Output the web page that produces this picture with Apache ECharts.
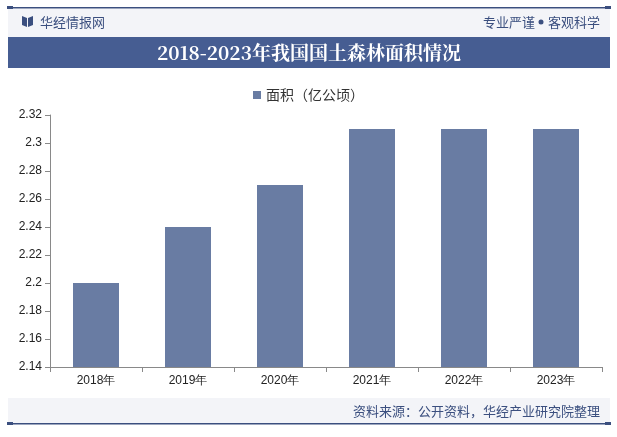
<!DOCTYPE html>
<html><head><meta charset="utf-8">
<script src="https://cdn.jsdelivr.net/npm/echarts@6/dist/echarts.min.js"></script>
<style>html,body{margin:0;padding:0;background:#fff}#c{width:617px;height:437px}</style>
</head><body><div id="c"></div>
<script>
var categories = ['2018年','2019年','2020年','2021年','2022年','2023年'];
var areaValues = [2.2, 2.24, 2.27, 2.31, 2.31, 2.31];
var seriesName = '面积（亿公顷）';
var titleText = '2018-2023年我国国土森林面积情况';
var sourceText = '资料来源：公开资料，华经产业研究院整理';

var chart = echarts.init(document.getElementById('c'), null, {renderer:'canvas'});
var navy = '#3b4f7f';
chart.setOption({
  backgroundColor:'#fff',
  animation:false,
  graphic:[
    {type:'rect', shape:{x:8,y:9,width:602,height:28}, style:{fill:'#f3f4f8'}},
    {type:'rect', shape:{x:8,y:7,width:602,height:1.5}, style:{fill:navy}},
    {type:'rect', shape:{x:7,y:6,width:6,height:3}, style:{fill:navy}},
    {type:'rect', shape:{x:605,y:6,width:6,height:3}, style:{fill:navy}},
    {type:'rect', shape:{x:8,y:37,width:602,height:31}, style:{fill:'#465d92'}},
    {type:'text', x:309, y:53, style:{text:titleText, fill:'#fff', font:'bold 19px "Noto Serif CJK SC","Noto Sans CJK SC",serif', align:'center', verticalAlign:'middle'}},
    {type:'polygon', shape:{points:[[22,16],[27,18],[27,27],[22,25]]}, style:{fill:'#3b4f7f'}},
    {type:'polygon', shape:{points:[[28,18],[33,16],[33,25],[28,27]]}, style:{fill:'#3b4f7f'}},
    {type:'text', x:40, y:22, style:{text:'华经情报网', fill:'#3b4f7f', font:'13px "Noto Sans CJK SC",sans-serif', verticalAlign:'middle'}},
    {type:'text', x:600, y:22, style:{text:'客观科学', fill:'#3b4f7f', font:'13px "Noto Sans CJK SC",sans-serif', align:'right', verticalAlign:'middle'}},
    {type:'circle', shape:{cx:541, cy:22, r:2.5}, style:{fill:'#3b4f7f'}},
    {type:'text', x:535, y:22, style:{text:'专业严谨', fill:'#3b4f7f', font:'13px "Noto Sans CJK SC",sans-serif', align:'right', verticalAlign:'middle'}},
    {type:'rect', shape:{x:8,y:398,width:602,height:25}, style:{fill:'#f3f4f8'}},
    {type:'text', x:600, y:411, style:{text:sourceText, fill:'#3b4f7f', font:'13px "Noto Sans CJK SC",sans-serif', align:'right', verticalAlign:'middle'}},
    {type:'rect', shape:{x:8,y:423,width:602,height:1.5}, style:{fill:navy}},
    {type:'rect', shape:{x:7,y:422,width:6,height:3}, style:{fill:navy}},
    {type:'rect', shape:{x:605,y:422,width:6,height:3}, style:{fill:navy}}
  ],
  legend:{
    top:83, left:'center', itemWidth:8, itemHeight:8, icon:'rect', itemGap:5,
    textStyle:{fontSize:14, color:'#333', fontFamily:'"Noto Sans CJK SC",sans-serif'},
    data:[seriesName]
  },
  grid:{left:50, right:15, top:115, bottom:70},
  xAxis:{
    type:'category', data:categories,
    axisLine:{lineStyle:{color:'#898989'}},
    axisTick:{show:true, alignWithLabel:false, lineStyle:{color:'#898989'}},
    axisLabel:{color:'#222', fontSize:12, fontFamily:'Arial,"Liberation Sans",sans-serif', margin:8}
  },
  yAxis:{
    type:'value', min:2.14, max:2.32, interval:0.02,
    axisLine:{show:true, lineStyle:{color:'#898989'}},
    axisTick:{show:true, lineStyle:{color:'#898989'}},
    splitLine:{show:false},
    axisLabel:{color:'#222', fontSize:12, fontFamily:'Arial,"Liberation Sans",sans-serif',
      formatter:function(v){return String(parseFloat(v.toFixed(2)));}}
  },
  series:[{
    name:seriesName, type:'bar', data:areaValues, barWidth:'50%',
    itemStyle:{color:'#697ca3'}
  }]
});
</script></body></html>
